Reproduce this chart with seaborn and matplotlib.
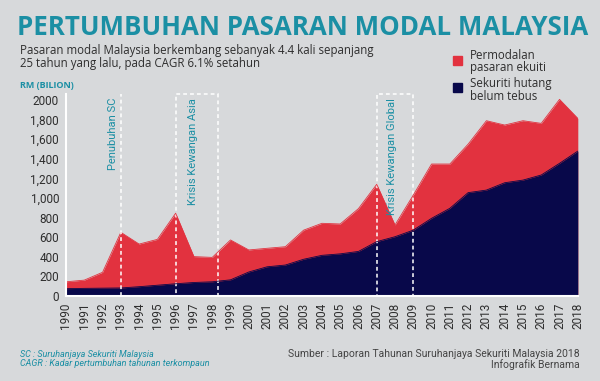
import pandas as pd
import matplotlib.pyplot as plt
import seaborn as sns
from matplotlib.patches import Rectangle

# Data (RM billion)
years = list(range(1990, 2019))
sekuriti_hutang = [75, 78, 80, 82, 95, 110, 125, 138, 145, 165,
                   245, 298, 316, 375, 415, 430, 455, 555, 605, 672,
                   793, 895, 1055, 1081, 1156, 1183, 1235, 1354, 1479]
permodalan_ekuiti = [70, 84, 162, 568, 435, 468, 720, 264, 249, 407,
                     225, 189, 187, 297, 327, 305, 437, 585, 120, 358,
                     554, 452, 495, 708, 589, 606, 527, 653, 334]
y_ticks = [0, 200, 400, 600, 800, 1000, 1200, 1400, 1600, 1800, 2000]
y_tick_labels = ['0', '200', '400', '600', '800', '1,000', '1,200',
                 '1,400', '1,600', '1,800', '2000']

df = pd.DataFrame({'Tahun': years,
                   'Sekuriti hutang': sekuriti_hutang,
                   'Permodalan ekuiti': permodalan_ekuiti})
df['Jumlah'] = df['Sekuriti hutang'] + df['Permodalan ekuiti']

BG = '#d7d9db'
RED = '#e2323f'
NAVY = '#08084a'
TEAL = '#1b8fa4'
TEXT = '#2e2e2e'

sns.set_theme(style='white', rc={'axes.facecolor': BG, 'figure.facecolor': BG})
plt.rcParams['font.family'] = ['Roboto', 'DejaVu Sans']

fig = plt.figure(figsize=(6, 3.81), dpi=100)
ax = fig.add_axes([0.11, 0.2231, 0.853, 0.530])

ax.fill_between(df['Tahun'], 0, df['Jumlah'], color=RED, lw=0)
ax.fill_between(df['Tahun'], 0, df['Sekuriti hutang'], color=NAVY, lw=0)
sns.lineplot(data=df, x='Tahun', y='Jumlah', color=RED, lw=0.6, ax=ax)
sns.lineplot(data=df, x='Tahun', y='Sekuriti hutang', color=NAVY, lw=0.6, ax=ax)

ax.set_xlim(1990, 2018)
ax.set_ylim(0, 2061)
ax.set_yticks(y_ticks)
ax.set_yticklabels(y_tick_labels)
ax.set_xticks(years)
ax.set_xticklabels([str(y) for y in years], rotation=90)
ax.tick_params(axis='y', labelsize=8.5, colors=TEXT, pad=5, length=0)
ax.tick_params(axis='x', labelsize=8.5, colors=TEXT, pad=5, length=0)
ax.set_xlabel('')
ax.set_ylabel('')
for side in ['top', 'right']:
    ax.spines[side].set_visible(False)
for side in ['left', 'bottom']:
    ax.spines[side].set_color('white')
    ax.spines[side].set_linewidth(1.5)

# event markers
dash = dict(color='white', ls=(0, (2.5, 2)), lw=1.1)
ax.axvline(1993, **dash)
for x0, x1 in [(1996, 1998.3), (2007, 2009)]:
    ax.add_patch(Rectangle((x0, 0), x1 - x0, 2061, fill=False,
                           edgecolor='white', ls=(0, (2.5, 2)), lw=1.1,
                           clip_on=False))
notes = [(1992.55, 'Penubuhan SC'), (1996.95, 'Krisis Kewangan Asia'),
         (2007.85, 'Krisis Kewangan Global')]
for x, label in notes:
    ax.text(x, 2020, label, rotation=90, ha='center', va='top',
            fontsize=8, color=TEAL)

# titles
fig.text(17 / 600, 1 - 35 / 381, 'PERTUMBUHAN PASARAN MODAL MALAYSIA',
         fontsize=18.6, fontweight='bold', color=TEAL, family='Open Sans',
         va='baseline')
fig.text(20 / 600, 1 - 57 / 381,
         'Pasaran modal Malaysia berkembang sebanyak 4.4 kali sepanjang\n'
         '25 tahun yang lalu, pada CAGR 6.1% setahun',
         fontsize=8.3, color=TEXT, family='Open Sans', va='center',
         linespacing=0.95)
fig.text(20 / 600, 1 - 85 / 381, 'RM (BILION)', fontsize=6.5,
         fontweight='bold', color=TEAL, family='Open Sans', va='center')

# legend
for yc, col, label, tc in [(60, RED, 'Permodalan\npasaran ekuiti', 61.5),
                           (87, NAVY, 'Sekuriti hutang\nbelum tebus', 90)]:
    fig.patches.append(Rectangle((453 / 600, 1 - (yc + 4.5) / 381), 9 / 600, 9 / 381,
                                 transform=fig.transFigure, color=col))
    fig.text(470 / 600, 1 - tc / 381, label, fontsize=8.3, color=TEXT,
             family='Open Sans', va='center', linespacing=0.9)

# footnotes
fig.text(20 / 600, 1 - 359 / 381,
         'SC : Suruhanjaya Sekuriti Malaysia\n'
         'CAGR : Kadar pertumbuhan tahunan terkompaun',
         fontsize=6.5, style='italic', color=TEAL, va='center', linespacing=1.1)
fig.text(580 / 600, 1 - 359.5 / 381,
         'Sumber : Laporan Tahunan Suruhanjaya Sekuriti Malaysia 2018\n'
         'Infografik Bernama',
         fontsize=7.5, color='#444444', ha='right', va='center',
         multialignment='right', linespacing=1.05)

fig.savefig('out.png', dpi=100, facecolor=BG)
